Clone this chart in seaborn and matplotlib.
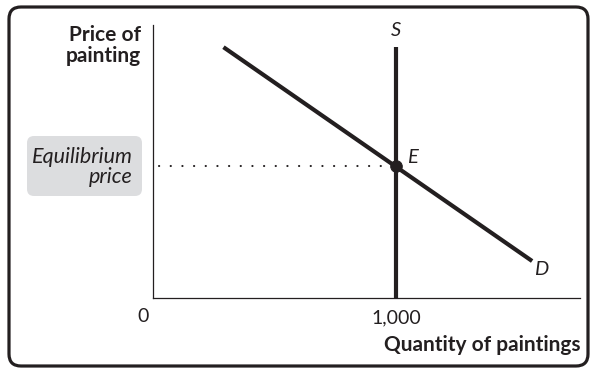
import matplotlib
matplotlib.use("Agg")
import matplotlib.pyplot as plt
from matplotlib.patches import FancyBboxPatch
import seaborn as sns
import pandas as pd

# === данные (условные единицы цены, количество картин) ===
demand_q = [290, 1560]
demand_p = [95, 14]
supply_q = [1000, 1000]
supply_p = [0, 95]
eq_q = [1000]
eq_p = [50]
x_ticks = [1000]
x_tick_labels = ["1,000"]

INK = "#231f20"

sns.set_theme(style="white")
plt.rcParams["font.family"] = ["Lato", "DejaVu Sans"]

fig = plt.figure(figsize=(5.92, 3.70), dpi=100)
ax = fig.add_axes([153 / 592, 72 / 370, 427 / 592, 273 / 370])

demand = pd.DataFrame({"q": demand_q, "p": demand_p})
supply = pd.DataFrame({"q": supply_q, "p": supply_p})
eq = pd.DataFrame({"q": eq_q, "p": eq_p})

# пунктир от оси до точки равновесия
ax.plot([25, eq_q[0]], [eq_p[0], eq_p[0]], color=INK, lw=1.5,
        linestyle=(0, (0.1, 5.5)), dash_capstyle="round", zorder=1)

sns.lineplot(data=demand, x="q", y="p", color=INK, lw=3.0, ax=ax,
             solid_capstyle="butt", sort=False, estimator=None)
sns.lineplot(data=supply, x="q", y="p", color=INK, lw=3.0, ax=ax,
             solid_capstyle="butt", sort=False, estimator=None)
sns.scatterplot(data=eq, x="q", y="p", color=INK, s=70, ax=ax,
                edgecolor=INK, zorder=5)

ax.set_xlim(0, 1757)
ax.set_ylim(0, 103.4)
sns.despine(ax=ax)
for side in ["left", "bottom"]:
    ax.spines[side].set_color(INK)
    ax.spines[side].set_linewidth(0.9)

ax.set_xticks(x_ticks)
ax.set_xticklabels(x_tick_labels, fontsize=14, color=INK)
ax.tick_params(axis="x", length=0, pad=8)
ax.set_yticks([])
ax.set_xlabel("")
ax.set_ylabel("")

# подписи кривых
ax.annotate("S", (supply_q[1], supply_p[1]), xytext=(0, 6), textcoords="offset points",
            ha="center", va="bottom", fontsize=14.5, style="italic", color=INK)
ax.annotate("D", (demand_q[1], demand_p[1]), xytext=(1.5, -6), textcoords="offset points",
            ha="left", va="center", fontsize=14.5, style="italic", color=INK)
ax.annotate("E", (eq_q[0], eq_p[0]), xytext=(8, 6), textcoords="offset points",
            ha="left", va="center", fontsize=14.5, style="italic", color=INK)
ax.annotate("0", (0, 0), xytext=(-7, -13), textcoords="offset points",
            ha="center", va="center", fontsize=14, color=INK)

# подписи осей
fig.text(141 / 592, 1 - 25 / 370, "Price of\npainting", ha="right", va="top",
         fontsize=15, fontweight="bold", color=INK, linespacing=1.05)
fig.text(581 / 592, 1 - 345 / 370, "Quantity of paintings", ha="right", va="center",
         fontsize=15, fontweight="bold", color=INK)

# серая плашка "Equilibrium price"
fig.patches.append(FancyBboxPatch((27, 370 - 196), 115, 60,
                                  boxstyle="round,pad=0,rounding_size=7",
                                  transform=None, facecolor="#dcdddf",
                                  edgecolor="none", zorder=0))
fig.text(133 / 592, 1 - 167 / 370, "Equilibrium\nprice", ha="right", va="center",
         fontsize=15.5, style="italic", color=INK, linespacing=1.05)

# рамка вокруг рисунка
fig.patches.append(FancyBboxPatch((9, 4), 579, 359,
                                  boxstyle="round,pad=0,rounding_size=12",
                                  transform=None, facecolor="none",
                                  edgecolor=INK, lw=2.3, zorder=10))

fig.savefig("out.png", dpi=100)
